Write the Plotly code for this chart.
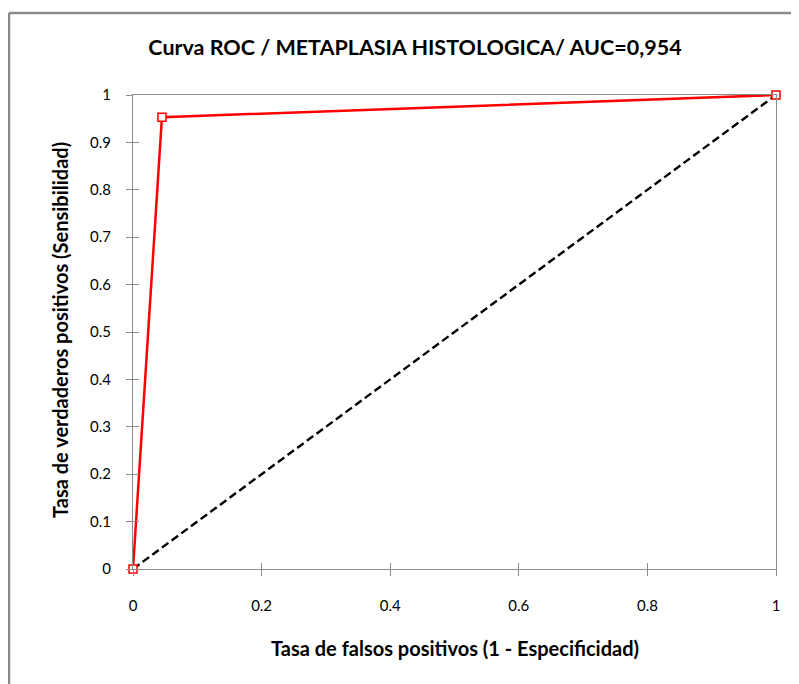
import plotly.graph_objects as go

fpr = [0, 0.045, 1]
tpr = [0, 0.953, 1]
diag_x = [0, 1]
diag_y = [0, 1]
x_ticks = [0, 0.2, 0.4, 0.6, 0.8, 1]
x_labels = ["0", "0.2", "0.4", "0.6", "0.8", "1"]
y_ticks = [0, 0.1, 0.2, 0.3, 0.4, 0.5, 0.6, 0.7, 0.8, 0.9, 1]
y_labels = ["0", "0.1", "0.2", "0.3", "0.4", "0.5", "0.6", "0.7", "0.8", "0.9", "1"]
title = "Curva ROC / METAPLASIA HISTOLOGICA/ AUC=0,954"
xtitle = "Tasa de falsos positivos (1 - Especificidad)"
ytitle = "Tasa de verdaderos positivos (Sensibilidad)"

FONT = "Lato, 'Open Sans', sans-serif"
AX = "#8c8c8c"

# the page body adds an 8px offset; figure is sized to fit the window
W, H = 791, 676
L, R, T, B = 125, 23, 87, 115
pw, ph = W - L - R, H - T - B

fig = go.Figure()
fig.add_trace(go.Scatter(x=diag_x, y=diag_y, mode="lines",
                         line=dict(color="black", width=2.4, dash="8px,4px"),
                         showlegend=False, hoverinfo="skip", cliponaxis=False))
fig.add_trace(go.Scatter(x=fpr, y=tpr, mode="lines+markers",
                         line=dict(color="#ff0000", width=2.5),
                         marker=dict(symbol="square", size=8, color="white",
                                     line=dict(color="#ff0000", width=1.5)),
                         showlegend=False, cliponaxis=False))

fig.update_layout(
    width=W, height=H,
    margin=dict(l=L, r=R, t=T, b=B, autoexpand=False),
    paper_bgcolor="white", plot_bgcolor="white",
    font=dict(family=FONT, size=15, color="black"),
    title=dict(text="<b>" + title + "</b>", x=407 / W, xanchor="center",
               y=1 - 39 / H, yanchor="middle",
               font=dict(size=21.5, family=FONT, color="black")),
    xaxis=dict(range=[0, 1], tickvals=x_ticks, ticktext=x_labels,
               showgrid=False, zeroline=False, showline=True, linecolor=AX,
               linewidth=1, mirror=True, ticks="outside", ticklen=6,
               tickcolor=AX, ticklabelstandoff=17, automargin=False),
    yaxis=dict(range=[0, 1], tickvals=y_ticks, ticktext=y_labels,
               showgrid=False, zeroline=False, showline=True, linecolor=AX,
               linewidth=1, mirror=True, ticks="outside", ticklen=6,
               tickcolor=AX, ticklabelstandoff=12, automargin=False),
    xaxis2=dict(range=[0, 1], tickvals=x_ticks, overlaying="x",
                showticklabels=False, ticks="inside", ticklen=6,
                tickcolor=AX, showgrid=False, zeroline=False, showline=False),
    yaxis2=dict(range=[0, 1], tickvals=y_ticks, overlaying="y",
                showticklabels=False, ticks="inside", ticklen=6,
                tickcolor=AX, showgrid=False, zeroline=False, showline=False),
)
fig.add_trace(go.Scatter(x=[None], y=[None], xaxis="x2", yaxis="y2",
                         showlegend=False, hoverinfo="skip"))

# axis titles
fig.add_annotation(text="<b>" + xtitle + "</b>", xref="paper", yref="paper",
                   x=(447 - L) / pw, y=-(640 - (T + ph)) / ph,
                   xanchor="center", yanchor="middle", showarrow=False,
                   font=dict(size=20, family=FONT, color="black"))
fig.add_annotation(text="<b>" + ytitle + "</b>", xref="paper", yref="paper",
                   x=(52 - L) / pw, y=1 - (322 - T) / ph, textangle=-90,
                   xanchor="center", yanchor="middle", showarrow=False,
                   font=dict(size=20, family=FONT, color="black"))

# outer chart frame (left and top edges visible)
fx = (1 - L) / pw
fy = 1 + (T - 5) / ph
fig.add_shape(type="line", xref="paper", yref="paper", x0=fx, x1=fx,
              y0=-(B + 5) / ph, y1=fy, line=dict(color="#8a8a8a", width=2.5))
fig.add_shape(type="line", xref="paper", yref="paper", x0=fx, x1=1 + (R + 5) / pw,
              y0=fy, y1=fy, line=dict(color="#8a8a8a", width=2.5))

fig.write_html("out.html")
